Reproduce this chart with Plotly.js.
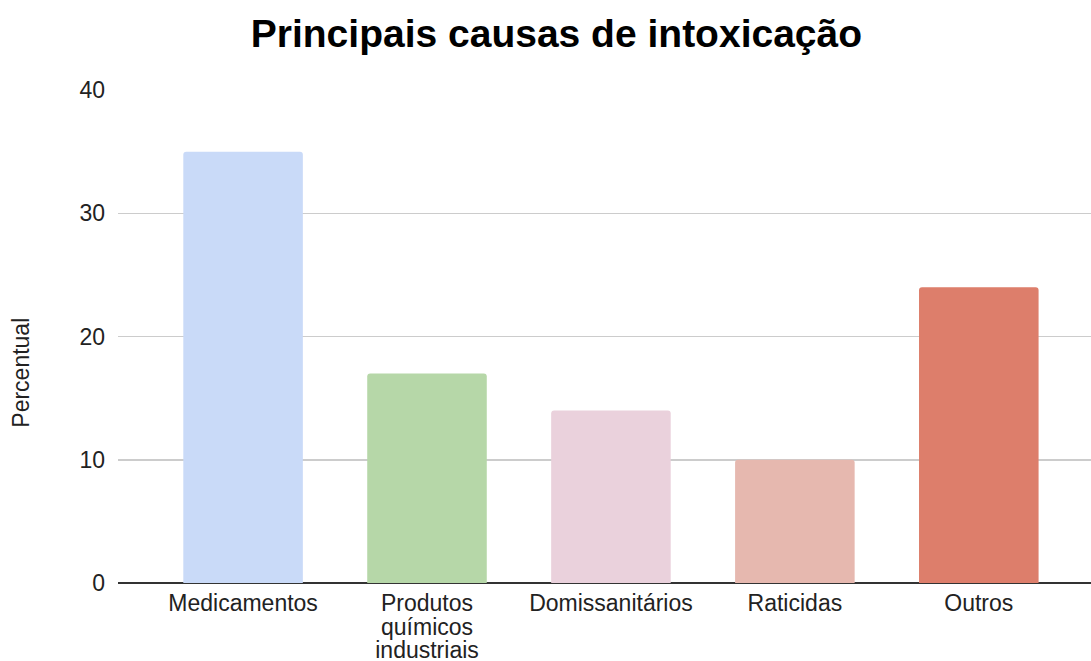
<!DOCTYPE html>
<html>
<head>
<meta charset="utf-8">
<script src="https://cdn.plot.ly/plotly-3.0.1.min.js"></script>
<style>html,body{margin:0;padding:0;background:#fff}#chart{width:1091px;height:661px}</style>
</head>
<body>
<div id="chart"></div>
<script>
// Main causes of poisoning, percent share per category
const categories = ["Medicamentos", "Produtos químicos industriais", "Domissanitários", "Raticidas", "Outros"];
const tickLabels = ["Medicamentos", "Produtos<br>químicos<br>industriais", "Domissanitários", "Raticidas", "Outros"];
const percentValues = [35, 17, 14, 10, 24];
const barColors = ["#c9daf8", "#b6d7a8", "#ead1dc", "#e6b8af", "#dd7e6b"];
const yTicks = [0, 10, 20, 30, 40];
const yAxisLabel = "Percentual";

const FONT = "'Liberation Sans', Arial, sans-serif";

const trace = {
  type: "bar",
  x: categories,
  y: percentValues,
  marker: { color: barColors, cornerradius: 3, line: { width: 0 } },
  hoverinfo: "x+y"
};

const layout = {
  width: 1091,
  height: 661,
  margin: { l: 118, r: 0, t: 90, b: 78 },
  paper_bgcolor: "#ffffff",
  plot_bgcolor: "#ffffff",
  font: { family: FONT, color: "#222222", size: 23 },
  title: {
    text: "<b>Principais causas de intoxicação</b>",
    font: { family: FONT, size: 39, color: "#000000" },
    x: 0.51, xanchor: "center", y: 0.95, yanchor: "middle"
  },
  bargap: 0.35,
  showlegend: false,
  xaxis: {
    type: "category",
    tickvals: categories,
    ticktext: tickLabels,
    range: [-0.68, 4.61],
    showgrid: false,
    zeroline: false,
    showline: false,
    ticks: "",
    ticklabelstandoff: 4,
    tickfont: { family: FONT, size: 23, color: "#222222" }
  },
  yaxis: {
    range: [0, 40],
    tickvals: yTicks,
    showgrid: true,
    gridcolor: "#cccccc",
    gridwidth: 1.5,
    zeroline: true,
    zerolinecolor: "#333333",
    zerolinewidth: 2,
    ticks: "",
    ticklabelstandoff: 12,
    tickfont: { family: FONT, size: 23, color: "#222222" }
  },
  annotations: [{
    text: yAxisLabel,
    xref: "paper", yref: "paper",
    x: -0.1, y: 0.426,
    xanchor: "center", yanchor: "middle",
    textangle: -90,
    showarrow: false,
    font: { family: FONT, size: 23, color: "#222222" }
  }]
};

Plotly.newPlot("chart", [trace], layout, { displayModeBar: false, staticPlot: true }).then(function (gd) {
  // tighten the line spacing of the wrapped category labels
  gd.querySelectorAll(".xtick text tspan.line").forEach(function (t) {
    const dy = t.getAttribute("dy");
    if (dy && parseFloat(dy) !== 0) {
      t.setAttribute("dy", (parseFloat(dy) * 1.03 / 1.3) + "em");
    }
  });
});
</script>
</body>
</html>
